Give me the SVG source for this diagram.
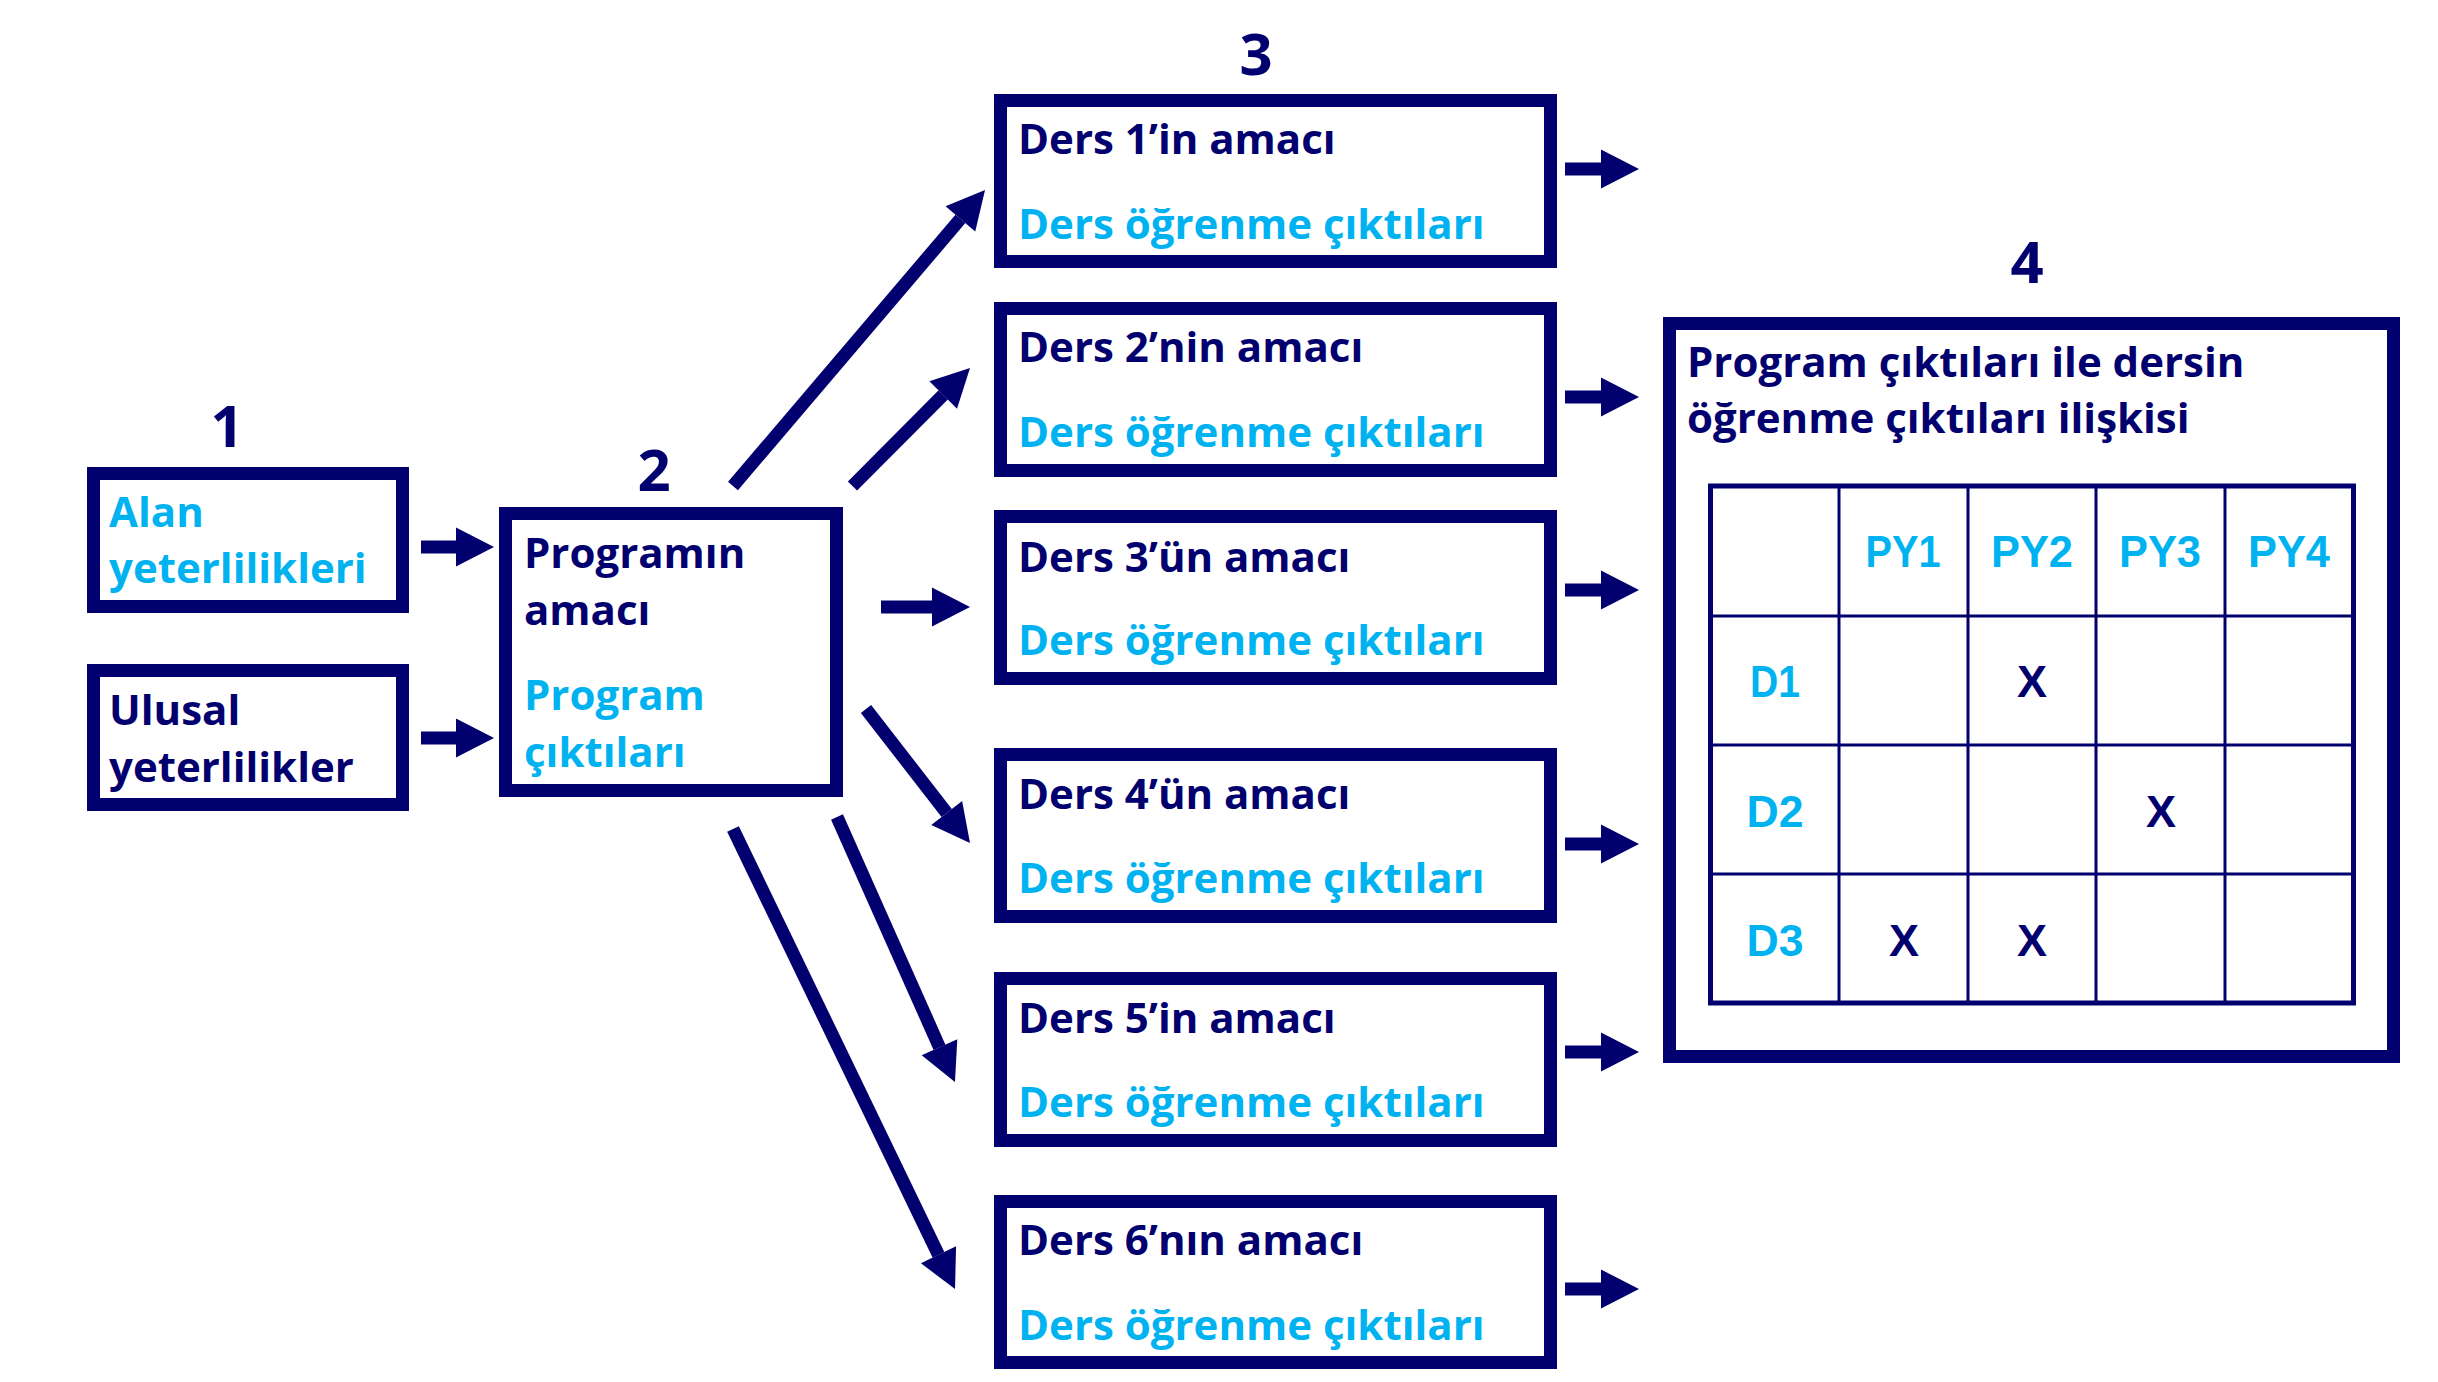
<svg xmlns="http://www.w3.org/2000/svg" width="2438" height="1382" viewBox="0 0 2438 1382">
<style>
.box{fill:#fff;stroke:#02006E;stroke-width:13}
.t{font-family:"Open Sans","Noto Sans",sans-serif;font-weight:700;font-size:42px}
.n{fill:#02006E}
.c{fill:#00B3F0}
.num{font-family:"Open Sans","Noto Sans",sans-serif;font-weight:700;font-size:58px;fill:#02006E;text-anchor:middle}
.tb{font-family:"Liberation Sans",Arial,sans-serif;font-weight:700;font-size:45px;text-anchor:middle}
.ln{stroke:#02006E;stroke-width:13;fill:none;marker-end:url(#ah)}
.grid{stroke:#02006E;stroke-width:3;fill:none}
</style>
<defs>
<marker id="ah" markerUnits="userSpaceOnUse" markerWidth="40" markerHeight="40" viewBox="0 -20 38 40" refX="0" refY="0" orient="auto">
<path d="M0,-19.5 L38,0 L0,19.5 Z" fill="#02006E"/>
</marker>
</defs>
<rect width="2438" height="1382" fill="#fff"/>
<text class="num" x="227" y="447">1</text>
<text class="num" x="654" y="491">2</text>
<text class="num" x="1256" y="75">3</text>
<text class="num" x="2027" y="283">4</text>
<g id="alan">
<rect class="box" x="93.5" y="473.5" width="309" height="133"/>
<text class="t c" x="109" y="527">Alan</text>
<text class="t c" x="109" y="583">yeterlilikleri</text>
</g>
<g id="ulusal">
<rect class="box" x="93.5" y="670.5" width="309" height="134"/>
<text class="t n" x="109" y="725">Ulusal</text>
<text class="t n" x="109" y="782">yeterlilikler</text>
</g>
<g id="program">
<rect class="box" x="505.5" y="513.5" width="331" height="277"/>
<text class="t n" x="524" y="568">Programın</text>
<text class="t n" x="524" y="625">amacı</text>
<text class="t c" x="524" y="710">Program</text>
<text class="t c" x="524" y="767">çıktıları</text>
</g>
<g id="ders1">
<rect class="box" x="1000.5" y="100.5" width="550" height="161"/>
<text class="t n" x="1018" y="154">Ders 1’in amacı</text>
<text class="t c" x="1018" y="239">Ders öğrenme çıktıları</text>
</g>
<g id="ders2">
<rect class="box" x="1000.5" y="308.5" width="550" height="162"/>
<text class="t n" x="1018" y="362">Ders 2’nin amacı</text>
<text class="t c" x="1018" y="447">Ders öğrenme çıktıları</text>
</g>
<g id="ders3">
<rect class="box" x="1000.5" y="516.5" width="550" height="162"/>
<text class="t n" x="1018" y="572">Ders 3’ün amacı</text>
<text class="t c" x="1018" y="655">Ders öğrenme çıktıları</text>
</g>
<g id="ders4">
<rect class="box" x="1000.5" y="754.5" width="550" height="162"/>
<text class="t n" x="1018" y="809">Ders 4’ün amacı</text>
<text class="t c" x="1018" y="893">Ders öğrenme çıktıları</text>
</g>
<g id="ders5">
<rect class="box" x="1000.5" y="978.5" width="550" height="162"/>
<text class="t n" x="1018" y="1033">Ders 5’in amacı</text>
<text class="t c" x="1018" y="1117">Ders öğrenme çıktıları</text>
</g>
<g id="ders6">
<rect class="box" x="1000.5" y="1201.5" width="550" height="161"/>
<text class="t n" x="1018" y="1255">Ders 6’nın amacı</text>
<text class="t c" x="1018" y="1340">Ders öğrenme çıktıları</text>
</g>
<g id="iliski">
<rect class="box" x="1669.5" y="323.5" width="724" height="733"/>
<text class="t n" x="1687" y="377">Program çıktıları ile dersin</text>
<text class="t n" x="1687" y="433">öğrenme çıktıları ilişkisi</text>
<g id="tablo">
<path class="grid" d="M1839,486V1003M1968,486V1003M2096,486V1003M2225,486V1003M1711,616H2353M1711,745H2353M1711,874H2353"/>
<rect x="1710.5" y="486" width="643" height="517" fill="none" stroke="#02006E" stroke-width="5"/>
<text class="tb c" x="1903" y="567" textLength="75" lengthAdjust="spacingAndGlyphs">PY1</text>
<text class="tb c" x="2032" y="567" textLength="82" lengthAdjust="spacingAndGlyphs">PY2</text>
<text class="tb c" x="2160" y="567" textLength="82" lengthAdjust="spacingAndGlyphs">PY3</text>
<text class="tb c" x="2289" y="567" textLength="82" lengthAdjust="spacingAndGlyphs">PY4</text>
<text class="tb c" x="1775" y="697" textLength="50" lengthAdjust="spacingAndGlyphs">D1</text>
<text class="tb c" x="1775" y="827" textLength="57" lengthAdjust="spacingAndGlyphs">D2</text>
<text class="tb c" x="1775" y="956" textLength="57" lengthAdjust="spacingAndGlyphs">D3</text>
<text class="tb n" x="2032" y="697">X</text>
<text class="tb n" x="2161" y="827">X</text>
<text class="tb n" x="1904" y="956">X</text>
<text class="tb n" x="2032" y="956">X</text>
</g>
</g>
<g id="connectors">
<line class="ln" x1="421" y1="547" x2="456" y2="547"/>
<line class="ln" x1="421" y1="738" x2="456" y2="738"/>
<line class="ln" x1="733" y1="486" x2="960.4" y2="218.9"/>
<line class="ln" x1="852.5" y1="486" x2="943.2" y2="394.9"/>
<line class="ln" x1="881" y1="607" x2="932" y2="607"/>
<line class="ln" x1="866" y1="709" x2="946.7" y2="813"/>
<line class="ln" x1="837" y1="817" x2="939.5" y2="1047.3"/>
<line class="ln" x1="733" y1="829" x2="938.5" y2="1254.8"/>
<line class="ln" x1="1565" y1="169" x2="1601" y2="169"/>
<line class="ln" x1="1565" y1="397" x2="1601" y2="397"/>
<line class="ln" x1="1565" y1="590" x2="1601" y2="590"/>
<line class="ln" x1="1565" y1="844" x2="1601" y2="844"/>
<line class="ln" x1="1565" y1="1052" x2="1601" y2="1052"/>
<line class="ln" x1="1565" y1="1289" x2="1601" y2="1289"/>
</g>
</svg>
